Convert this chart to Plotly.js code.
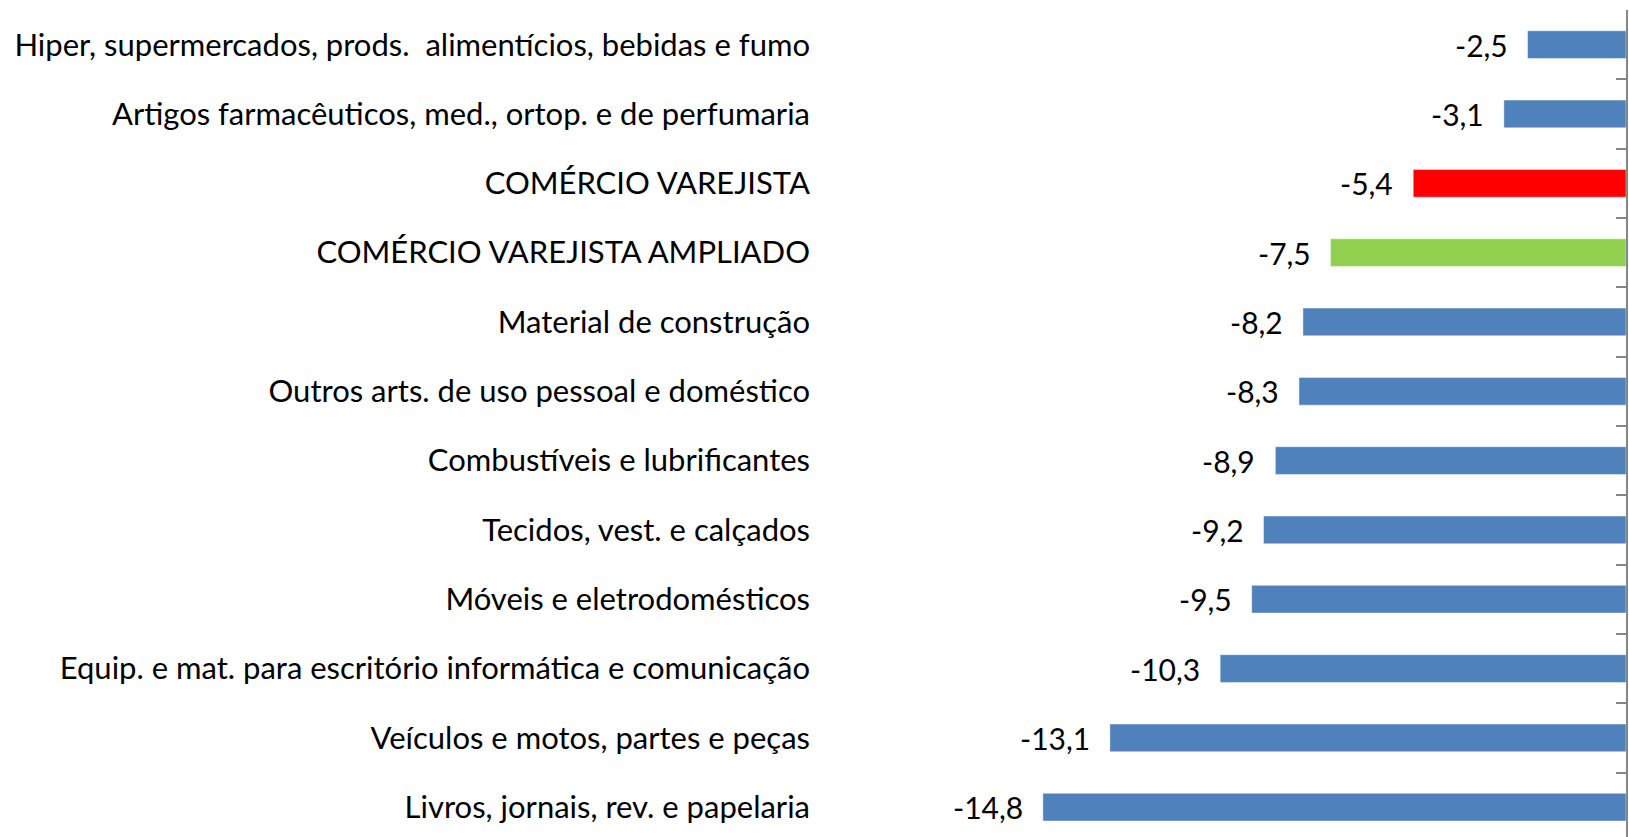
<!DOCTYPE html>
<html>
<head>
<meta charset="utf-8">
<script src="https://cdn.plot.ly/plotly-3.0.1.min.js"></script>
<style>html,body{margin:0;padding:0;background:#fff;}#chart{width:1629px;height:837px;}</style>
</head>
<body>
<div id="chart"></div>
<script>
const categories = [
  "Hiper, supermercados, prods.\u00A0 alimentícios, bebidas e fumo",
  "Artigos farmacêuticos, med., ortop. e de perfumaria",
  "COMÉRCIO VAREJISTA",
  "COMÉRCIO VAREJISTA AMPLIADO",
  "Material de construção",
  "Outros arts. de uso pessoal e doméstico",
  "Combustíveis e lubrificantes",
  "Tecidos, vest. e calçados",
  "Móveis e eletrodomésticos",
  "Equip. e mat. para escritório informática e comunicação",
  "Veículos e motos, partes e peças",
  "Livros, jornais, rev. e papelaria"
];
const values = [-2.5, -3.1, -5.4, -7.5, -8.2, -8.3, -8.9, -9.2, -9.5, -10.3, -13.1, -14.8];
const barColors = ["#4F81BD","#4F81BD","#FF0000","#92D050","#4F81BD","#4F81BD","#4F81BD","#4F81BD","#4F81BD","#4F81BD","#4F81BD","#4F81BD"];

const FONT = "Lato, 'Open Sans', sans-serif";
const FS = 30;
const FS_CAT = 31;

const labels = values.map(v => v.toFixed(1).replace('.', ','));

const traces = [
  {
    type: 'bar',
    orientation: 'h',
    x: values,
    y: categories,
    marker: {color: barColors, line: {color: 'rgba(255,255,255,0.45)', width: 1}},
    hoverinfo: 'skip',
    xaxis: 'x', yaxis: 'y'
  },
  {
    type: 'scatter',
    mode: 'markers',
    x: values,
    y: categories,
    marker: {opacity: 0},
    hoverinfo: 'skip',
    showlegend: false,
    xaxis: 'x', yaxis: 'y2'
  }
];

const yRange = [11.43, -0.5];

const annotations = values.map((v, i) => ({
  x: v, y: categories[i], xref: 'x', yref: 'y',
  text: labels[i], showarrow: false,
  xanchor: 'right', yanchor: 'middle', xshift: -18,
  font: {family: FONT, size: FS, color: '#000'}
}));

const layout = {
  width: 1629, height: 837,
  margin: {l: 812, r: 3, t: 10, b: 0, pad: 0},
  paper_bgcolor: '#fff', plot_bgcolor: '#fff',
  showlegend: false,
  bargap: 0.6,
  font: {family: FONT, size: FS, color: '#000'},
  xaxis: {range: [-20.66, 0], showgrid: false, zeroline: false, showticklabels: false, ticks: '', showline: false, fixedrange: true},
  yaxis: {
    type: 'category', categoryorder: 'array', categoryarray: categories,
    range: yRange, showgrid: false, zeroline: false, showline: false, ticks: '',
    tickfont: {family: FONT, size: FS_CAT, color: '#000'}, automargin: false, ticklabelstandoff: 1
  },
  yaxis2: {
    type: 'category', categoryorder: 'array', categoryarray: categories,
    overlaying: 'y', side: 'right', anchor: 'x',
    range: yRange, showgrid: false, zeroline: false,
    showline: true, linecolor: '#868686', linewidth: 2,
    ticks: 'inside', tickson: 'boundaries', ticklen: 10, tickwidth: 2, tickcolor: '#868686',
    showticklabels: false
  },
  annotations: annotations
};

Plotly.newPlot('chart', traces, layout, {staticPlot: true, displayModeBar: false});
</script>
</body>
</html>
